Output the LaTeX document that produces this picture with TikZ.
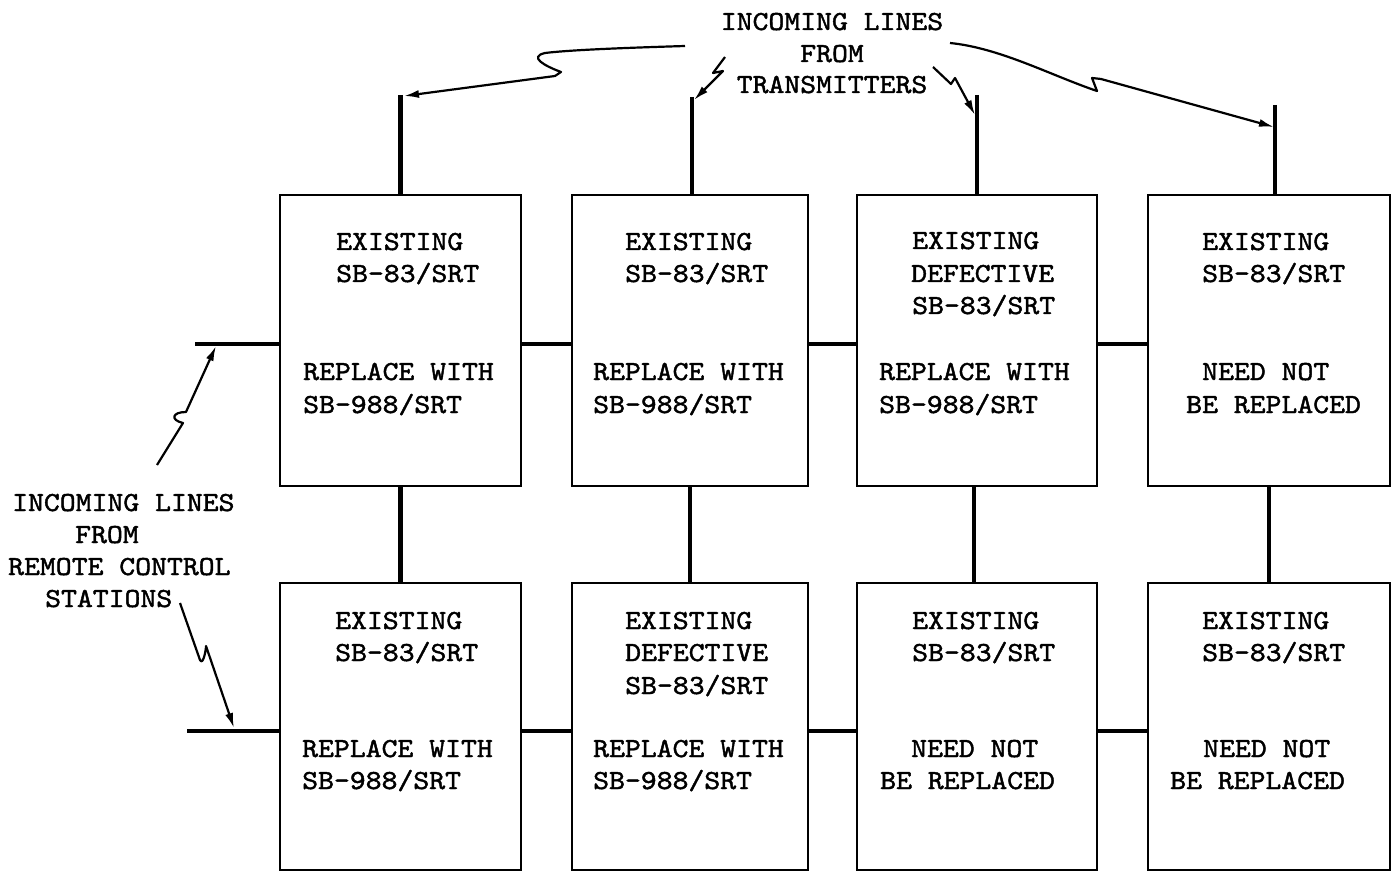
\documentclass[tikz,border=0pt]{standalone}
\usepackage{fontspec}
\newfontfamily\tw[FakeStretch=1.1,FakeBold=1.6]{lmmono10-regular.otf}
\usetikzlibrary{arrows.meta}
\begin{document}
\begin{tikzpicture}[x=1pt,y=-1pt,
  unit/.style={draw, line width=2.5pt, inner sep=0pt, minimum width=#1},
  rowa/.style={minimum height=291pt},
  rowb/.style={minimum height=287pt},
  tx/.style={font=\tw\fontsize{27.5}{33}\selectfont, anchor=base west, inner sep=0pt},
  tc/.style={font=\tw\fontsize{27.5}{33}\selectfont, anchor=base, inner sep=0pt},
  conn/.style={line width=4.2pt},
  wire/.style={line width=2.2pt, line join=round, -{Latex[length=15pt,width=8pt]}}]
\useasboundingbox (0,0) rectangle (1394,874);

% boxes
\node[unit=241pt, rowa] (b11) at (400.5,340.5) {};
\node[unit=236pt, rowa] (b12) at (690,340.5) {};
\node[unit=240pt, rowa] (b13) at (977,340.5) {};
\node[unit=242pt, rowa] (b14) at (1269,340.5) {};
\node[unit=241pt, rowb] (b21) at (400.5,726.5) {};
\node[unit=236pt, rowb] (b22) at (690,726.5) {};
\node[unit=240pt, rowb] (b23) at (977,726.5) {};
\node[unit=242pt, rowb] (b24) at (1269,726.5) {};

% box texts row 1
\node[tx] (t11a) at (336,250) {EXISTING};
\node[tx] (t11b) at (336,282) {SB-83/SRT};
\node[tx] (t11c) at (303,380) {REPLACE WITH};
\node[tx] (t11d) at (303,413) {SB-988/SRT};
\node[tx] (t12a) at (625,250) {EXISTING};
\node[tx] (t12b) at (625,282) {SB-83/SRT};
\node[tx] (t12c) at (593,380) {REPLACE WITH};
\node[tx] (t12d) at (593,413) {SB-988/SRT};
\node[tx] (t13a) at (912,249) {EXISTING};
\node[tx] (t13b) at (911,282) {DEFECTIVE};
\node[tx] (t13c) at (912,314) {SB-83/SRT};
\node[tx] (t13d) at (879,380) {REPLACE WITH};
\node[tx] (t13e) at (879,413) {SB-988/SRT};
\node[tx] (t14a) at (1202,250) {EXISTING};
\node[tx] (t14b) at (1202,282) {SB-83/SRT};
\node[tx] (t14c) at (1202,380) {NEED NOT};
\node[tx] (t14d) at (1186,413) {BE REPLACED};
% box texts row 2
\node[tx] (t21a) at (335,629) {EXISTING};
\node[tx] (t21b) at (335,661) {SB-83/SRT};
\node[tx] (t21c) at (302,757) {REPLACE WITH};
\node[tx] (t21d) at (302,789) {SB-988/SRT};
\node[tx] (t22a) at (625,629) {EXISTING};
\node[tx] (t22b) at (625,661) {DEFECTIVE};
\node[tx] (t22c) at (625,694) {SB-83/SRT};
\node[tx] (t22d) at (593,757) {REPLACE WITH};
\node[tx] (t22e) at (593,789) {SB-988/SRT};
\node[tx] (t23a) at (912,629) {EXISTING};
\node[tx] (t23b) at (912,661) {SB-83/SRT};
\node[tx] (t23c) at (911,757) {NEED NOT};
\node[tx] (t23d) at (880,789) {BE REPLACED};
\node[tx] (t24a) at (1202,629) {EXISTING};
\node[tx] (t24b) at (1202,661) {SB-83/SRT};
\node[tx] (t24c) at (1203,757) {NEED NOT};
\node[tx] (t24d) at (1170,789) {BE REPLACED};

% titles
\node[tc] (h1) at (832,30) {INCOMING LINES};
\node[tc] (h2) at (832,62) {FROM};
\node[tc] (h3) at (832,93) {TRANSMITTERS};
\node[tx] (g1) at (12,511) {INCOMING LINES};
\node[tx] (g2) at (75,543) {FROM};
\node[tx] (g3) at (8,575) {REMOTE CONTROL};
\node[tx] (g4) at (45,607) {STATIONS};

% stubs and connectors
\coordinate (s1) at (400.5,95);
\coordinate (s2) at (692,97);
\coordinate (s3) at (977,95);
\coordinate (s4) at (1275,105);
\draw[conn] (s1) -- (s1 |- b11.north);
\draw[conn] (s2) -- (s2 |- b12.north);
\draw[conn] (s3) -- (s3 |- b13.north);
\draw[conn] (s4) -- (s4 |- b14.north);

\draw[conn] (b11.south) -- (b21.north);
\draw[conn] (b12.south) -- (b22.north);
\draw[conn] ([xshift=-3pt]b13.south) -- ([xshift=-3pt]b23.north);
\draw[conn] (b14.south) -- (b24.north);

\draw[conn] ([yshift=-3.5pt]b11.east) -- ([yshift=-3.5pt]b12.west);
\draw[conn] ([yshift=-3.5pt]b12.east) -- ([yshift=-3.5pt]b13.west);
\draw[conn] ([yshift=-3.5pt]b13.east) -- ([yshift=-3.5pt]b14.west);
\draw[conn] ([yshift=-4.5pt]b21.east) -- ([yshift=-4.5pt]b22.west);
\draw[conn] ([yshift=-4.5pt]b22.east) -- ([yshift=-4.5pt]b23.west);
\draw[conn] ([yshift=-4.5pt]b23.east) -- ([yshift=-4.5pt]b24.west);

\coordinate (l1) at (195,344);
\coordinate (l2) at (187,731);
\draw[conn] (l1) -- (l1 -| b11.west);
\draw[conn] (l2) -- (l2 -| b21.west);

% incoming wavy arrows
\coordinate (a1) at (404,96);
\coordinate (a2) at (694,100);
\coordinate (a3) at (975,115);
\coordinate (a4) at (1274,127);
\coordinate (a5) at (216,346);
\coordinate (a6) at (234,728);
\draw[wire] (685,46) .. controls (620,48) and (570,50) .. (545,53)
  .. controls (528,57) and (545,66) .. (561,72) -- (555,76) -- (a1);
\draw[wire] (725,57) -- (713,73) -- (723,71) -- (a2);
\draw[wire] (933,67) -- (951,84) -- (955,78) -- (a3);
\draw[wire] (950,43) .. controls (1000,48) and (1050,75) .. (1097,91)
  -- (1092,78) -- (1101,79) -- (a4);
\draw[wire] (157,465) -- (183,423) .. controls (170,420) and (172,412) .. (186,412) -- (a5);
\draw[wire] (180,603) -- (200,660) .. controls (203,666) and (206,650) .. (206,646) -- (a6);
\end{tikzpicture}
\end{document}
